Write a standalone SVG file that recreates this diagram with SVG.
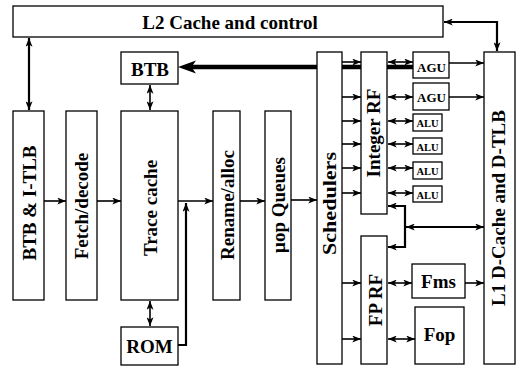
<svg xmlns="http://www.w3.org/2000/svg" width="518" height="367" viewBox="0 0 518 367">
<defs>
<style>
.box{fill:#fff;stroke:#000;stroke-width:1.3}
.t{font-family:"Liberation Serif","Times New Roman",serif;font-weight:bold;font-size:19px;text-anchor:middle;fill:#000}
.s{font-size:13px}
.xs{font-size:10.5px}
.c{fill:none;stroke:#000;stroke-width:1.6}
.c2{fill:none;stroke:#000;stroke-width:2.2}
.a{marker-end:url(#ah)}
.d{marker-start:url(#ah);marker-end:url(#ah)}
</style>
<marker id="ah" viewBox="0 0 10 8" markerUnits="userSpaceOnUse" markerWidth="9" markerHeight="7" refX="10" refY="4" orient="auto-start-reverse">
<path d="M0,0 L10,4 L0,8 L2.5,4 z" fill="#000"/>
</marker>
</defs>

<g id="connectors">
<line class="c2 d" x1="29" y1="38" x2="29" y2="110"/>
<path class="c2 d" d="M444,22 L497,22 L497,51"/>
<line class="c d" x1="150" y1="85" x2="150" y2="110"/>
<line class="c d" x1="150" y1="301" x2="150" y2="326"/>
<line class="c a" x1="44" y1="201" x2="66" y2="201"/>
<line class="c a" x1="97" y1="201" x2="121" y2="201"/>
<line class="c a" x1="178" y1="201" x2="213" y2="201"/>
<line class="c a" x1="240" y1="201" x2="265" y2="201"/>
<line class="c a" x1="291" y1="200" x2="317" y2="200"/>
<path class="c2 a" d="M178,345 L186,345 L186,203"/>
<line stroke="#000" stroke-width="4.5" x1="190" y1="67" x2="413" y2="67"/>
<polygon points="178,67 196,60.5 191.5,67 196,73.5" fill="#000"/>
<line class="c a" x1="342" y1="62" x2="361" y2="62"/>
<line class="c a" x1="342" y1="97" x2="361" y2="97"/>
<line class="c a" x1="342" y1="121" x2="361" y2="121"/>
<line class="c a" x1="342" y1="144" x2="361" y2="144"/>
<line class="c a" x1="342" y1="168" x2="361" y2="168"/>
<line class="c a" x1="342" y1="193" x2="361" y2="193"/>
<line class="c a" x1="342" y1="283" x2="361" y2="283"/>
<line class="c a" x1="342" y1="339" x2="361" y2="339"/>
<line class="c d" x1="388" y1="62" x2="413" y2="62"/>
<line class="c d" x1="388" y1="97" x2="413" y2="97"/>
<line class="c d" x1="388" y1="121" x2="413" y2="121"/>
<line class="c d" x1="388" y1="144" x2="413" y2="144"/>
<line class="c d" x1="388" y1="168" x2="413" y2="168"/>
<line class="c d" x1="388" y1="193" x2="413" y2="193"/>
<line class="c d" x1="388" y1="283" x2="412" y2="283"/>
<line class="c d" x1="388" y1="339" x2="415" y2="339"/>
<line class="c a" x1="449" y1="63" x2="484" y2="63"/>
<line class="c a" x1="449" y1="97" x2="484" y2="97"/>
<line class="c a" x1="465" y1="283" x2="484" y2="283"/>
<path class="c2 d" d="M388,206 L405,206 L405,247 L388,247"/>
<line class="c2 d" x1="406" y1="227" x2="484" y2="227"/>
</g>

<g id="l2"><rect class="box" x="13" y="6" width="430" height="31"/><text class="t" x="230" y="29">L2 Cache and control</text></g>
<g id="btb"><rect class="box" x="121" y="52" width="57" height="32"/><text class="t" x="150" y="76">BTB</text></g>
<g id="btb-itlb"><rect class="box" x="13" y="111" width="31" height="189"/><text class="t" transform="translate(36,203) rotate(-90)">BTB &amp; I-TLB</text></g>
<g id="fetch"><rect class="box" x="66" y="111" width="31" height="189"/><text class="t" transform="translate(88,206) rotate(-90)">Fetch/decode</text></g>
<g id="trace"><rect class="box" x="121" y="111" width="57" height="189"/><text class="t" transform="translate(156.5,208) rotate(-90)">Trace cache</text></g>
<g id="rename"><rect class="box" x="213" y="111" width="27" height="189"/><text class="t" transform="translate(234,205) rotate(-90)">Rename/alloc</text></g>
<g id="uop"><rect class="box" x="265" y="111" width="26" height="189"/><text class="t" transform="translate(284.5,205) rotate(-90)">μop Queues</text></g>
<g id="rom"><rect class="box" x="121" y="327" width="57" height="38"/><text class="t" x="149.5" y="353">ROM</text></g>
<g id="sched"><rect class="box" x="317" y="52" width="25" height="312"/><text class="t" transform="translate(336,203.5) rotate(-90)" textLength="103" lengthAdjust="spacingAndGlyphs">Schedulers</text></g>
<g id="intrf"><rect class="box" x="361" y="52" width="26" height="162"/><text class="t" transform="translate(380,133) rotate(-90)">Integer RF</text></g>
<g id="fprf"><rect class="box" x="361" y="236" width="26" height="128"/><text class="t" transform="translate(382,300) rotate(-90)">FP RF</text></g>
<g id="agu1"><rect class="box" x="413" y="52" width="36" height="26"/><text class="t s" x="431.5" y="72">AGU</text></g>
<g id="agu2"><rect class="box" x="413" y="83" width="36" height="27"/><text class="t s" x="431.5" y="102">AGU</text></g>
<g id="alu1"><rect class="box" x="413" y="114" width="29" height="17"/><text class="t xs" x="427.5" y="127">ALU</text></g>
<g id="alu2"><rect class="box" x="413" y="138" width="29" height="16"/><text class="t xs" x="427.5" y="150.5">ALU</text></g>
<g id="alu3"><rect class="box" x="413" y="162" width="29" height="17"/><text class="t xs" x="427.5" y="175">ALU</text></g>
<g id="alu4"><rect class="box" x="413" y="186" width="29" height="16"/><text class="t xs" x="427.5" y="198.5">ALU</text></g>
<g id="fms"><rect class="box" x="412" y="264" width="53" height="34"/><text class="t" x="438.5" y="288">Fms</text></g>
<g id="fop"><rect class="box" x="415" y="307" width="49" height="57"/><text class="t" x="439.5" y="341">Fop</text></g>
<g id="l1"><rect class="box" x="484" y="52" width="31" height="312"/><text class="t" transform="translate(505,208) rotate(-90)">L1 D-Cache and D-TLB</text></g>
</svg>
